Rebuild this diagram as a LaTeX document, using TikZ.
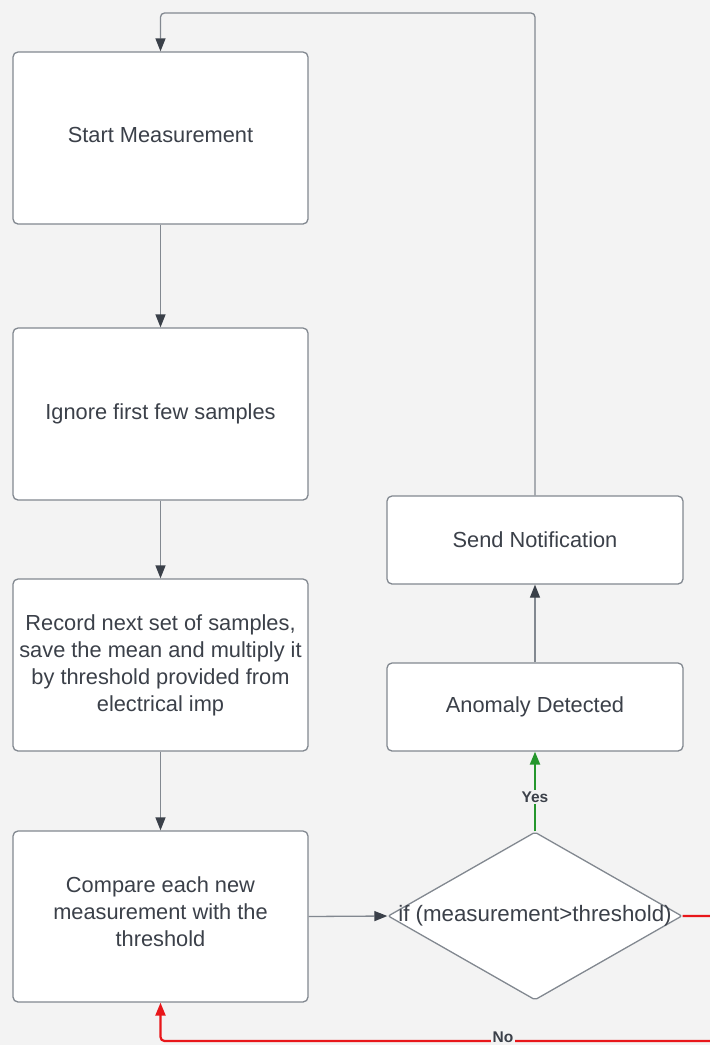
\documentclass[tikz,border=0pt]{standalone}
\usepackage{fontspec}
\setmainfont{Liberation Sans}
\usetikzlibrary{arrows.meta,shapes.geometric}
\definecolor{bg}{HTML}{F3F3F3}
\definecolor{txt}{HTML}{3B4049}
\definecolor{edge}{HTML}{828890}
\definecolor{head}{HTML}{3A4049}
\definecolor{redl}{HTML}{E8161A}
\definecolor{greenl}{HTML}{24962C}
\tikzset{
  box/.style={draw=edge, line width=1.3pt, fill=white, rounded corners=5pt,
    text=txt, font=\fontsize{21.8}{27}\selectfont, align=center,
    minimum width=295pt, inner sep=4pt},
  conn/.style={draw=edge, line width=1.3pt, -{Triangle[length=13pt,width=10pt,color=head]}},
  yesarrow/.style={draw=greenl, line width=2.2pt, -{Triangle[length=13pt,width=10pt]}},
  noarrow/.style={draw=redl, line width=2.2pt, -{Triangle[length=13pt,width=10pt]}},
  lbl/.style={fill=bg, text=txt, font=\fontsize{15.5}{18}\selectfont\bfseries, inner sep=1.5pt},
}
\begin{document}
\begin{tikzpicture}[x=1pt,y=-1pt]
\useasboundingbox (0,0) rectangle (710,1045);
\fill[bg] (0,0) rectangle (710,1045);

\node[box, minimum height=172pt, text depth=7pt] (start) at (160.5,138) {Start Measurement};
\node[box, minimum height=172pt] (ignore) at (160.5,414) {Ignore first few samples};
\node[box, minimum height=172pt] (record) at (160.5,665) {Record next set of samples,\\save the mean and multiply it\\by threshold provided from\\electrical imp};
\node[box, minimum height=171pt, text depth=10pt] (compare) at (160.5,916.5) {Compare each new\\measurement with the\\threshold};
\node[box, minimum width=296pt, minimum height=88pt] (send) at (535,540) {Send Notification};
\node[box, minimum width=296pt, minimum height=88pt] (anom) at (535,707) {Anomaly Detected};
\node[draw=edge, line width=1.3pt, fill=white, diamond, rounded corners=2pt, inner sep=0pt,
  minimum width=294pt, minimum height=168pt] (dia) at (535,916) {};
\node[text=txt, font=\fontsize{22.3}{27}\selectfont, inner sep=0pt] (diatext) at (dia.center) {if (measurement>threshold)};

\coordinate (top) at (0,13);
\coordinate (redR) at (730,916);
\coordinate (redB) at (0,1041);

\draw[conn] (start) -- (ignore);
\draw[conn] (ignore) -- (record);
\draw[conn] (record) -- (compare);
\draw[conn] (compare.east) -- (dia.west);
\draw[conn] (anom) -- (send);
\draw[conn, rounded corners=4pt] (send.north) |- (start.north |- top) -- (start.north);
\draw[yesarrow] (dia.north) -- node[lbl, pos=0.43] {Yes} (anom.south);
\draw[noarrow, rounded corners=4pt] (dia.east) -- (redR) |- (compare.south |- redB) -- (compare.south);
\node[lbl] (nolbl) at (503,1037) {No};
\end{tikzpicture}
\end{document}
